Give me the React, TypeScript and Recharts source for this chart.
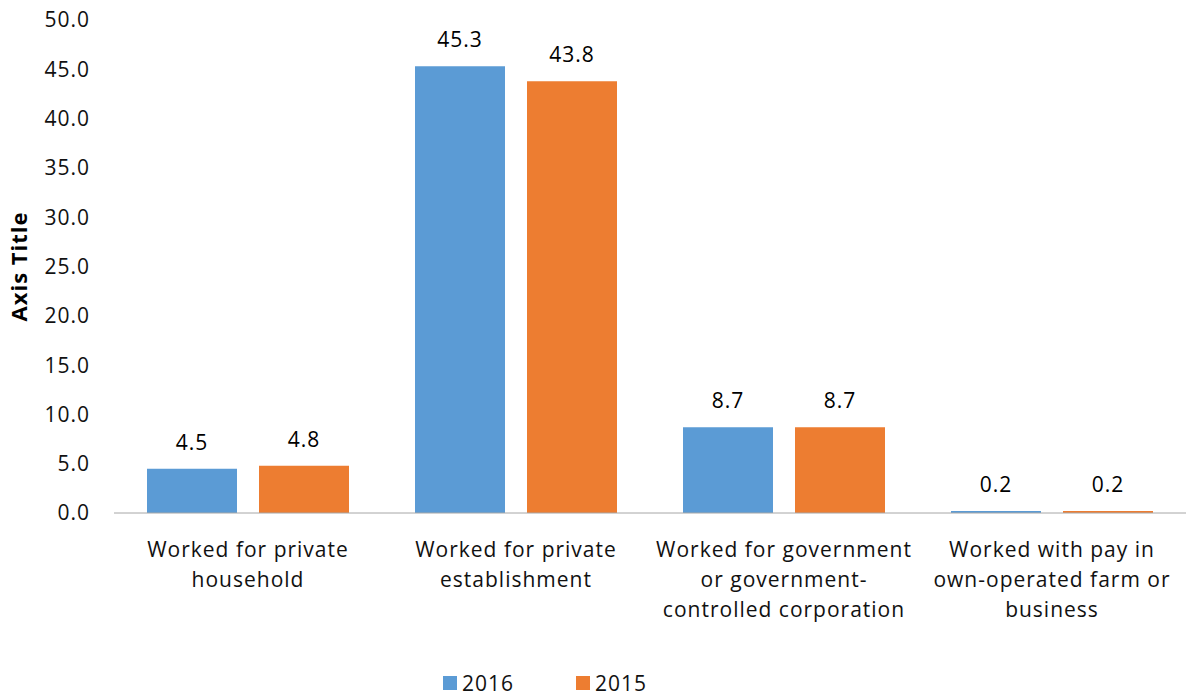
import React from 'react';
import { BarChart, Bar, XAxis, YAxis, LabelList, Legend } from 'recharts';

const categories: string[][] = [
  ['Worked for private', 'household'],
  ['Worked for private', 'establishment'],
  ['Worked for government', 'or government-', 'controlled corporation'],
  ['Worked with pay in', 'own-operated farm or', 'business'],
];
const values2016: number[] = [4.5, 45.3, 8.7, 0.2];
const values2015: number[] = [4.8, 43.8, 8.7, 0.2];
const yTicks: number[] = [0, 5, 10, 15, 20, 25, 30, 35, 40, 45, 50];

const data = categories.map((c, i) => ({
  name: c.join(' '),
  y2016: values2016[i],
  y2015: values2015[i],
}));

const FONT = '"Open Sans", sans-serif';
const BLUE = '#5b9bd5';
const ORANGE = '#ed7d31';
const FS = 21;
const LS = 1;

const XTick = (props: any) => {
  const { x, y, index } = props;
  const lines = categories[index] || [];
  return (
    <g>
      {lines.map((l, i) => (
        <text
          key={i}
          x={x}
          y={y + 36 + i * 30}
          textAnchor="middle"
          fontFamily={FONT}
          fontSize={FS}
          letterSpacing={LS}
          fill="#111"
        >
          {l}
        </text>
      ))}
    </g>
  );
};

const LegendContent = () => (
  <div style={{ display: 'flex', alignItems: 'center', fontFamily: FONT, fontSize: FS, letterSpacing: LS, color: '#111' }}>
    <span style={{ width: 14, height: 14, background: BLUE, display: 'inline-block', marginRight: 5 }} />
    <span style={{ marginRight: 62 }}>2016</span>
    <span style={{ width: 14, height: 14, background: ORANGE, display: 'inline-block', marginRight: 5 }} />
    <span>2015</span>
  </div>
);

const AxisTitle = (props: any) => {
  const { viewBox } = props;
  const cy = viewBox.y + viewBox.height / 2;
  return (
    <text
      x={18}
      y={cy}
      transform={`rotate(-90, 18, ${cy})`}
      textAnchor="middle"
      dominantBaseline="central"
      fontFamily={FONT}
      fontSize={22}
      fontWeight={700}
      letterSpacing={1}
      fill="#000"
    >
      Axis Title
    </text>
  );
};

export default function App() {
  return (
    <div style={{ width: 1187, height: 695, background: '#fff' }}>
      <style>{`body{margin:0}`}</style>
      <BarChart
        width={1187}
        height={695}
        data={data}
        margin={{ top: 20, right: 1, left: 0, bottom: 14 }}
        barGap={22}
        barSize={90}
      >
        <XAxis
          dataKey="name"
          tickLine={false}
          axisLine={{ stroke: '#a6a6a6', strokeWidth: 1 }}
          height={140}
          interval={0}
          tick={<XTick />}
        />
        <YAxis
          width={114}
          domain={[0, 50]}
          ticks={yTicks}
          tickFormatter={(v: number) => v.toFixed(1)}
          axisLine={false}
          tickLine={false}
          tickMargin={18}
          tick={{ fontFamily: FONT, fontSize: FS, fill: '#111', letterSpacing: LS }}
          label={<AxisTitle />}
        />
        <Legend
          content={<LegendContent />}
          wrapperStyle={{ position: 'absolute', left: 443, top: 669, width: 300, height: 28 }}
        />
        <Bar dataKey="y2016" name="2016" fill={BLUE} isAnimationActive={false}>
          <LabelList
            dataKey="y2016"
            position="top"
            offset={19}
            formatter={(v: number) => v.toFixed(1)}
            style={{ fontFamily: FONT, fontSize: FS, fill: '#000', letterSpacing: LS }}
          />
        </Bar>
        <Bar dataKey="y2015" name="2015" fill={ORANGE} isAnimationActive={false}>
          <LabelList
            dataKey="y2015"
            position="top"
            offset={19}
            formatter={(v: number) => v.toFixed(1)}
            style={{ fontFamily: FONT, fontSize: FS, fill: '#000', letterSpacing: LS }}
          />
        </Bar>
      </BarChart>
    </div>
  );
}
